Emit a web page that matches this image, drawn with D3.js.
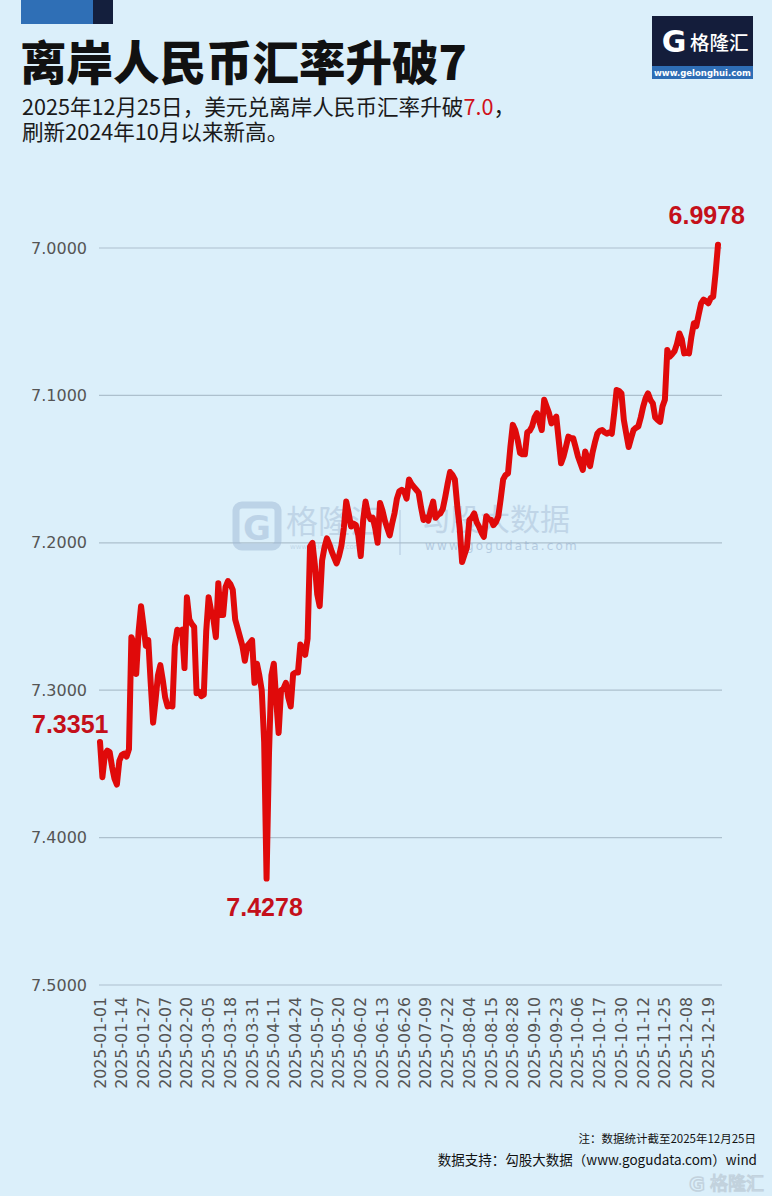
<!DOCTYPE html>
<html>
<head>
<meta charset="utf-8">
<script src="https://cdn.jsdelivr.net/npm/d3@7"></script>
<style>
  html, body { margin: 0; padding: 0; background: #dbeffa; }
  svg { display: block; }
</style>
</head>
<body>
<div id="chart"></div>
<script>
// ---------- DATA ----------
const title = "离岸人民币汇率升破7";
const subtitle1a = "2025年12月25日，美元兑离岸人民币汇率升破";
const subtitle1b = "7.0";
const subtitle1c = "，";
const subtitle2 = "刷新2024年10月以来新高。";
const noteText = "注：数据统计截至2025年12月25日";
const sourceText = "数据支持：勾股大数据（www.gogudata.com）wind";

const startDate = "2025-01-01";
const endDate = "2025-12-25";

const yTicks = [7.0, 7.1, 7.2, 7.3, 7.4, 7.5];

const xTickLabels = [
  "2025-01-01","2025-01-14","2025-01-27","2025-02-07","2025-02-20","2025-03-05",
  "2025-03-18","2025-03-31","2025-04-11","2025-04-24","2025-05-07","2025-05-20",
  "2025-06-02","2025-06-13","2025-06-26","2025-07-09","2025-07-22","2025-08-04",
  "2025-08-15","2025-08-28","2025-09-10","2025-09-23","2025-10-06","2025-10-17",
  "2025-10-30","2025-11-12","2025-11-25","2025-12-08","2025-12-19"
];

// USD/CNH, one value per weekday from 2025-01-01 to 2025-12-25
const rateValues = [
  7.3351,7.3590,7.3440,7.3410,7.3420,7.3520,7.3600,7.3640,7.3480,7.3440,
  7.3430,7.3450,7.3400,7.2640,7.2680,7.2890,7.2600,7.2430,7.2560,7.2700,
  7.2660,7.2950,7.3220,7.3070,7.2900,7.2830,7.2930,7.3050,7.3110,7.3100,
  7.3110,7.2700,7.2590,7.2600,7.2590,7.2850,7.2370,7.2520,7.2550,7.2570,
  7.3020,7.3010,7.3040,7.3030,7.2600,7.2370,7.2460,7.2520,7.2640,7.2275,
  7.2490,7.2490,7.2300,7.2260,7.2280,7.2320,7.2520,7.2580,7.2640,7.2700,
  7.2800,7.2700,7.2680,7.2660,7.2950,7.2820,7.2900,7.3000,7.3350,7.4278,
  7.3430,7.2900,7.2820,7.3070,7.3290,7.3000,7.2990,7.2950,7.3050,7.3110,
  7.2890,7.2880,7.2880,7.2690,7.2720,7.2760,7.2650,7.2026,7.2000,7.2150,
  7.2350,7.2430,7.2120,7.2030,7.1970,7.2010,7.2060,7.2100,7.2140,7.2090,
  7.2020,7.1900,7.1720,7.1800,7.1890,7.1870,7.1880,7.1950,7.2090,7.1850,
  7.1720,7.1800,7.1840,7.1830,7.1900,7.2000,7.1730,7.1780,7.1850,7.1900,
  7.1950,7.1870,7.1800,7.1700,7.1650,7.1640,7.1650,7.1700,7.1570,7.1600,
  7.1620,7.1640,7.1660,7.1760,7.1845,7.1830,7.1850,7.1780,7.1720,7.1830,
  7.1810,7.1800,7.1770,7.1690,7.1600,7.1520,7.1540,7.1570,7.1750,7.1900,
  7.2130,7.2080,7.2030,7.1845,7.1830,7.1800,7.1860,7.1890,7.1930,7.1960,
  7.1820,7.1840,7.1845,7.1880,7.1860,7.1820,7.1700,7.1570,7.1540,7.1530,
  7.1350,7.1200,7.1235,7.1300,7.1390,7.1400,7.1400,7.1250,7.1240,7.1210,
  7.1150,7.1120,7.1180,7.1235,7.1030,7.1076,7.1120,7.1190,7.1170,7.1144,
  7.1300,7.1460,7.1415,7.1350,7.1280,7.1290,7.1290,7.1350,7.1415,7.1460,
  7.1506,7.1380,7.1430,7.1480,7.1390,7.1320,7.1260,7.1240,7.1235,7.1250,
  7.1260,7.1250,7.1260,7.1120,7.0963,7.0970,7.0986,7.1167,7.1260,7.1350,
  7.1290,7.1235,7.1220,7.1210,7.1150,7.1076,7.1020,7.0986,7.1030,7.1054,
  7.1150,7.1167,7.1180,7.1076,7.1030,7.0692,7.0737,7.0720,7.0700,7.0650,
  7.0580,7.0620,7.0715,7.0710,7.0715,7.0600,7.0510,7.0530,7.0450,7.0375,
  7.0350,7.0360,7.0375,7.0340,7.0330,7.0170,6.9978
];

const annotations = [
  { label: "7.3351", date: "2025-01-01", anchor: "start" },
  { label: "7.4278", date: "2025-04-08", anchor: "middle" },
  { label: "6.9978", date: "2025-12-25", anchor: "end" }
];

// ---------- BUILD ----------
const W = 772, H = 1196;
const fmt = d3.timeFormat("%Y-%m-%d");
const parse = d3.timeParse("%Y-%m-%d");
const allDays = d3.timeDay.range(parse(startDate), d3.timeDay.offset(parse(endDate), 1));
const dates = allDays.filter(d => d.getDay() !== 0 && d.getDay() !== 6).map(fmt);
const data = dates.map((d, i) => ({ date: d, value: rateValues[i] }));

const svg = d3.select("#chart").append("svg")
  .attr("width", W).attr("height", H)
  .style("font-family", "'Noto Sans CJK SC', 'Noto Sans', sans-serif");

svg.append("rect").attr("width", W).attr("height", H).attr("fill", "#dbeffa");

// top-left color blocks
svg.append("rect").attr("x", 21).attr("y", 0).attr("width", 72).attr("height", 24).attr("fill", "#2f6fb6");
svg.append("rect").attr("x", 93).attr("y", 0).attr("width", 20).attr("height", 24).attr("fill", "#141f3d");

// title
svg.append("text").attr("x", 20).attr("y", 80)
  .attr("font-size", 46.5).attr("font-weight", 900).attr("fill", "#111")
  .text(title);

// subtitle (two lines in one text block)
const sub = svg.append("text").attr("x", 22).attr("y", 115)
  .attr("font-size", 21.6).attr("fill", "#1a1a1a");
sub.append("tspan").text(subtitle1a);
sub.append("tspan").attr("fill", "#d0121b").text(subtitle1b);
sub.append("tspan").text(subtitle1c);
sub.append("tspan").attr("x", 22).attr("dy", 25).text(subtitle2);

// logo top-right
const logo = svg.append("g");
logo.append("rect").attr("x", 652).attr("y", 16).attr("width", 101).attr("height", 50).attr("fill", "#141d3b");
logo.append("rect").attr("x", 652).attr("y", 66).attr("width", 101).attr("height", 13).attr("fill", "#2e6db5");
logo.append("text").attr("x", 674).attr("y", 52).attr("text-anchor", "middle")
  .attr("font-size", 30).attr("font-weight", 900).attr("fill", "#fff")
  .attr("font-family", "'DejaVu Sans', sans-serif").text("G");
logo.append("text").attr("x", 690).attr("y", 50)
  .attr("font-size", 19.5).attr("font-weight", 500).attr("fill", "#fff").text("格隆汇");
logo.append("text").attr("x", 702.5).attr("y", 76).attr("text-anchor", "middle")
  .attr("font-size", 8.5).attr("font-weight", 700).attr("fill", "#fff")
  .attr("font-family", "'DejaVu Sans', sans-serif").text("www.gelonghui.com");

// scales
const x = d3.scalePoint().domain(dates).range([100, 718]);
const y = d3.scaleLinear().domain([7.0, 7.5]).range([248, 985]);

// gridlines
svg.append("g").selectAll("line").data(yTicks).join("line")
  .attr("x1", 99).attr("x2", 722)
  .attr("y1", d => y(d)).attr("y2", d => y(d))
  .attr("stroke", "#adc0cd").attr("stroke-width", 1.2);

// y labels
const yAxis = d3.axisLeft(y).tickValues(yTicks).tickSize(0).tickPadding(0).tickFormat(d3.format(".4f"));
const gy = svg.append("g").attr("transform", "translate(87,0)").call(yAxis);
gy.select(".domain").remove();
gy.selectAll("text").attr("font-size", 16).attr("fill", "#555")
  .attr("font-family", "'DejaVu Sans', sans-serif").attr("x", 0);

// watermark
const wm = svg.append("g").attr("opacity", 0.5);
wm.append("rect").attr("x", 236).attr("y", 505).attr("width", 42).attr("height", 42).attr("rx", 6)
  .attr("fill", "none").attr("stroke", "#9fb9d6").attr("stroke-width", 7);
wm.append("text").attr("x", 257).attr("y", 540).attr("text-anchor", "middle")
  .attr("font-size", 34).attr("font-weight", 900).attr("fill", "#9fb9d6")
  .attr("font-family", "'DejaVu Sans', sans-serif").text("G");
wm.append("text").attr("x", 286).attr("y", 533).attr("font-size", 32).attr("fill", "#a6bdd6").text("格隆汇");
wm.append("text").attr("x", 290).attr("y", 549).attr("font-size", 7).attr("fill", "#a6bdd6")
  .attr("font-family", "'DejaVu Sans', sans-serif").text("www.gelonghui.com");
wm.append("line").attr("x1", 400).attr("x2", 400).attr("y1", 510).attr("y2", 555)
  .attr("stroke", "#a6bdd6").attr("stroke-width", 1.5);
wm.append("text").attr("x", 420).attr("y", 530).attr("font-size", 30).attr("fill", "#a6bdd6").text("勾股大数据");
wm.append("text").attr("x", 425).attr("y", 550).attr("font-size", 12).attr("letter-spacing", 2.2).attr("fill", "#8fa8c8")
  .attr("font-family", "'DejaVu Sans', sans-serif").text("www.gogudata.com");

// line
const line = d3.line().x(d => x(d.date)).y(d => y(d.value)).curve(d3.curveLinear);
svg.append("path").datum(data)
  .attr("d", line).attr("fill", "none")
  .attr("stroke", "#e00a0a").attr("stroke-width", 6)
  .attr("stroke-linejoin", "round").attr("stroke-linecap", "round");

// annotations
const annPos = {
  "7.3351": { dx: -68, dy: -9 },
  "7.4278": { dx: -2, dy: 37 },
  "6.9978": { dx: 27, dy: -21 }
};
annotations.forEach(a => {
  const v = data.find(d => d.date === a.date).value;
  const o = annPos[a.label];
  svg.append("text")
    .attr("x", x(a.date) + o.dx).attr("y", y(v) + o.dy)
    .attr("text-anchor", a.anchor)
    .attr("font-size", 25).attr("font-weight", 700).attr("fill", "#c4101a")
    .attr("font-family", "'Liberation Sans', Arial, sans-serif")
    .text(a.label);
});

// x labels
const gx = svg.append("g");
gx.selectAll("text").data(xTickLabels).join("text")
  .attr("transform", d => `translate(${x(d) + 5.5},997) rotate(-90)`)
  .attr("text-anchor", "end")
  .attr("font-size", 15.8).attr("fill", "#555")
  .attr("font-family", "'DejaVu Sans', sans-serif")
  .text(d => d);

// footer
svg.append("text").attr("x", 756).attr("y", 1143).attr("text-anchor", "end")
  .attr("font-size", 11.5).attr("fill", "#111").text(noteText);
svg.append("text").attr("x", 757).attr("y", 1165).attr("text-anchor", "end")
  .attr("font-size", 13.5).attr("fill", "#111").text(sourceText);

// bottom-right faint watermark
const bw = svg.append("g").attr("opacity", 0.7);
bw.append("text").attr("x", 697).attr("y", 1191).attr("text-anchor", "middle")
  .attr("font-size", 19).attr("font-weight", 900).attr("fill", "none").attr("stroke", "#b8c6d2").attr("stroke-width", 1.5)
  .attr("font-family", "'DejaVu Sans', sans-serif").text("G");
bw.append("text").attr("x", 710).attr("y", 1190)
  .attr("font-size", 18).attr("fill", "none").attr("stroke", "#b8c6d2").attr("stroke-width", 1.2).text("格隆汇");
</script>
</body>
</html>
